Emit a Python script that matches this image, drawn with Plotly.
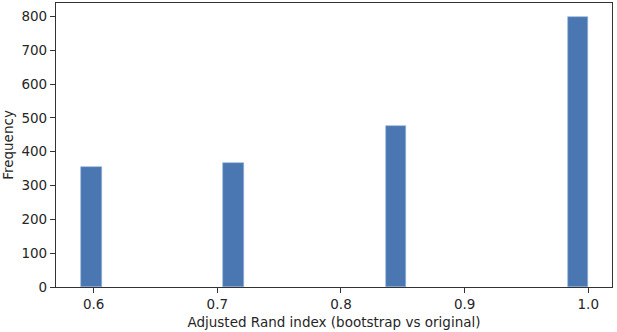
import plotly.graph_objects as go

# Histogram data (25 bins between ~0.59 and 1.0)
bin_centers = [0.5982, 0.7130, 0.8442, 0.9918]
counts = [356, 368, 476, 800]
bin_width = 0.0164
x_ticks = [0.6, 0.7, 0.8, 0.9, 1.0]
x_tick_labels = ["0.6", "0.7", "0.8", "0.9", "1.0"]
y_ticks = [0, 100, 200, 300, 400, 500, 600, 700, 800]

FONT = "DejaVu Sans"
TXT = "#262626"
AX = "#333333"

fig = go.Figure()
fig.add_trace(go.Bar(
    x=bin_centers, y=counts, width=[bin_width] * len(counts),
    marker=dict(color="#4a77b2", line=dict(color="#8fb0d8", width=0.6)),
    showlegend=False,
))

fig.update_layout(
    width=617, height=332,
    margin=dict(l=56, r=5, t=3, b=45),
    paper_bgcolor="white", plot_bgcolor="white",
    font=dict(family=FONT, size=13.5, color=TXT),
    bargap=0,
)
fig.update_xaxes(
    range=[0.5695, 1.0192],
    tickvals=x_ticks, ticktext=x_tick_labels,
    showgrid=False, zeroline=False,
    showline=True, linecolor=AX, linewidth=1.2, mirror=True,
    ticks="outside", ticklen=5, tickwidth=1, tickcolor=AX,
    tickfont=dict(family=FONT, size=13.5, color=TXT),
    title=dict(text="Adjusted Rand index (bootstrap vs original)",
               font=dict(family=FONT, size=13.5, color=TXT), standoff=6),
    automargin=False,
)
fig.update_yaxes(
    range=[0, 840],
    tickvals=y_ticks,
    showgrid=False, zeroline=False,
    showline=True, linecolor=AX, linewidth=1.2, mirror=True,
    ticks="outside", ticklen=5, tickwidth=1, tickcolor=AX,
    tickfont=dict(family=FONT, size=13.5, color=TXT),
    title=dict(text="Frequency", font=dict(family=FONT, size=13.5, color=TXT), standoff=6),
    automargin=False,
)

fig.write_html("out.html")
